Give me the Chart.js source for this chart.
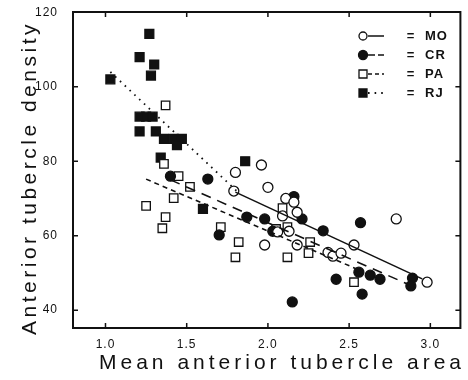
<!DOCTYPE html>
<html>
<head>
<meta charset="utf-8">
<script src="https://cdn.jsdelivr.net/npm/chart.js@4"></script>
<style>
  html, body { margin: 0; padding: 0; background: #fff; overflow: hidden; }
  #wrap { width: 468px; height: 380px; }
</style>
</head>
<body>
<div id="wrap"><canvas id="chart"></canvas></div>
<script>
const INK = "#111111";
const FONT = "'Liberation Sans', Arial, sans-serif";

const xTicks = [1.0, 1.5, 2.0, 2.5, 3.0];
const yTicks = [40, 60, 80, 100, 120];

const groupNames = ["MO", "CR", "PA", "RJ"];

// [mean anterior tubercle area, anterior tubercle density]
const moPoints = [
  [1.80, 77], [1.79, 72], [1.96, 79], [2.00, 73], [2.11, 70], [2.16, 69],
  [2.18, 66.3], [2.09, 65.3], [2.13, 61.2], [2.06, 61], [1.98, 57.5], [2.18, 57.5],
  [2.37, 55.5], [2.40, 54.5], [2.45, 55.3], [2.53, 57.5], [2.79, 64.5], [2.98, 47.5],
];
const crPoints = [
  [1.40, 76], [1.63, 75.2], [1.70, 60.2], [1.87, 65], [1.98, 64.5], [2.03, 61.2],
  [2.16, 70.5], [2.21, 64.5], [2.34, 61.3], [2.57, 63.5], [2.42, 48.3], [2.56, 50.2],
  [2.63, 49.4], [2.69, 48.3], [2.58, 44.3], [2.89, 48.6], [2.88, 46.5], [2.15, 42.2],
];
const paPoints = [
  [1.37, 95], [1.36, 79.3], [1.45, 76], [1.52, 73.1], [1.42, 70.1], [1.25, 68],
  [1.37, 65], [1.35, 62], [1.71, 62.3], [1.82, 58.3], [1.80, 54.2], [2.09, 67.4],
  [2.12, 62.3], [2.05, 61.8], [2.26, 58.3], [2.12, 54.2], [2.25, 55.3], [2.53, 47.5],
];
const rjPoints = [
  [1.03, 102], [1.27, 114.2], [1.21, 108], [1.30, 106], [1.28, 103], [1.21, 92],
  [1.25, 92], [1.29, 92], [1.21, 88], [1.31, 88], [1.36, 86], [1.42, 86],
  [1.47, 86], [1.44, 84.3], [1.34, 81], [1.60, 67.2], [1.86, 80],
];

// regression line end points
const moFit = [[1.80, 71.7], [2.95, 48.4]];
const crFit = [[1.40, 75], [2.86, 47]];
const paFit = [[1.25, 75.2], [2.55, 51]];
const rjFit = [[1.03, 104], [1.82, 71.5]];

const toXY = (pts) => pts.map(([x, y]) => ({ x, y }));

const styles = {
  MO: { shape: "circle", fill: "#ffffff", radius: 5, dash: [] },
  CR: { shape: "circle", fill: INK, radius: 5, dash: [10, 7] },
  PA: { shape: "rect", fill: "#ffffff", radius: 6, dash: [5, 4] },
  RJ: { shape: "rect", fill: INK, radius: 6.3, dash: [1.6, 5] },
};

function pointSet(name, pts) {
  const s = styles[name];
  return {
    label: name,
    data: toXY(pts),
    pointStyle: s.shape,
    pointRadius: s.radius,
    pointHoverRadius: s.radius,
    pointBackgroundColor: s.fill,
    pointBorderColor: INK,
    pointBorderWidth: 1.3,
    showLine: false,
  };
}

function fitSet(name, pts) {
  return {
    label: name + " fit",
    data: toXY(pts),
    showLine: true,
    borderColor: INK,
    borderWidth: name === "RJ" ? 1.8 : 1.6,
    borderDash: styles[name].dash,
    pointRadius: 0,
    fill: false,
  };
}

const framePlugin = {
  id: "frame",
  beforeDraw(chart) {
    chart.ctx.letterSpacing = "1px";
  },
  afterDraw(chart) {
    const { ctx, chartArea: a, scales } = chart;
    ctx.save();
    ctx.letterSpacing = "0px";
    ctx.strokeStyle = INK;
    ctx.lineWidth = 2;
    ctx.setLineDash([]);
    ctx.beginPath();
    ctx.moveTo(a.left, a.top);
    ctx.lineTo(a.right, a.top);
    ctx.lineTo(a.right, a.bottom);
    ctx.lineTo(a.left, a.bottom);
    ctx.closePath();
    ctx.stroke();
    const len = 5;
    ctx.lineWidth = 1.5;
    ctx.beginPath();
    xTicks.forEach((v) => {
      const px = scales.x.getPixelForValue(v);
      ctx.moveTo(px, a.bottom); ctx.lineTo(px, a.bottom - len);
      ctx.moveTo(px, a.top); ctx.lineTo(px, a.top + len);
    });
    yTicks.forEach((v) => {
      const py = scales.y.getPixelForValue(v);
      ctx.moveTo(a.left, py); ctx.lineTo(a.left + len, py);
      ctx.moveTo(a.right, py); ctx.lineTo(a.right - len, py);
    });
    ctx.stroke();

    // axis titles
    ctx.fillStyle = INK;
    ctx.font = "21px " + FONT;
    ctx.letterSpacing = "4px";
    ctx.textAlign = "center";
    ctx.textBaseline = "alphabetic";
    ctx.fillText(chart.options.scales.x.title.text, 282, 369);
    ctx.save();
    ctx.translate(36, 178);
    ctx.rotate(-Math.PI / 2);
    ctx.letterSpacing = "3.5px";
    ctx.fillText(chart.options.scales.y.title.text, 0, 0);
    ctx.restore();

    // legend
    const rows = [36, 55, 74, 93];
    groupNames.forEach((name, i) => {
      const s = styles[name];
      const y = rows[i];
      ctx.lineWidth = 1.3;
      ctx.setLineDash([]);
      ctx.fillStyle = s.fill;
      ctx.beginPath();
      if (s.shape === "circle") {
        ctx.arc(363, y, name === "CR" ? 4.5 : 4, 0, Math.PI * 2);
      } else {
        ctx.rect(359, y - 4, 8, 8);
      }
      ctx.fill();
      ctx.stroke();
      ctx.beginPath();
      ctx.lineWidth = name === "RJ" ? 1.8 : 1.5;
      ctx.setLineDash(name === "CR" ? [7, 3] : name === "PA" ? [4, 3] : s.dash);
      ctx.moveTo(368, y);
      ctx.lineTo(384, y);
      ctx.stroke();
      ctx.setLineDash([]);
      ctx.fillStyle = INK;
      ctx.letterSpacing = "1px";
      ctx.font = "bold 13px " + FONT;
      ctx.textAlign = "center";
      ctx.textBaseline = "middle";
      ctx.fillText("=", 411, y);
      ctx.textAlign = "left";
      ctx.fillText(name, 425, y);
    });
    ctx.restore();
  },
};

new Chart(document.getElementById("chart").getContext("2d"), {
  type: "scatter",
  data: {
    datasets: [
      fitSet("MO", moFit),
      fitSet("CR", crFit),
      fitSet("PA", paFit),
      fitSet("RJ", rjFit),
      pointSet("MO", moPoints),
      pointSet("CR", crPoints),
      pointSet("PA", paPoints),
      pointSet("RJ", rjPoints),
    ],
  },
  options: {
    responsive: true,
    maintainAspectRatio: false,
    animation: false,
    layout: { padding: { left: 0, right: 6, top: 12, bottom: 0 } },
    plugins: {
      legend: { display: false },
      tooltip: { enabled: false },
    },
    scales: {
      x: {
        type: "linear",
        min: 0.8,
        max: 3.185,
        afterBuildTicks(scale) { scale.ticks = xTicks.map((v) => ({ value: v })); },
        afterFit(scale) {
          scale.height = 52;
          scale.paddingLeft = 0;
          scale.paddingRight = 0;
        },
        title: { display: false, text: "Mean anterior tubercle area" },
        grid: { display: false, drawTicks: false },
        border: { display: false },
        ticks: {
          color: INK,
          padding: 9,
          font: { family: FONT, size: 12 },
          callback: (v) => Number(v).toFixed(1),
        },
      },
      y: {
        type: "linear",
        min: 35.2,
        max: 120.1,
        afterBuildTicks(scale) { scale.ticks = yTicks.map((v) => ({ value: v })); },
        afterFit(scale) {
          scale.width = 73;
          scale.paddingTop = 0;
          scale.paddingBottom = 0;
        },
        title: { display: false, text: "Anterior tubercle density" },
        grid: { display: false, drawTicks: false },
        border: { display: false },
        ticks: {
          color: INK,
          padding: 15,
          font: { family: FONT, size: 12 },
        },
      },
    },
  },
  plugins: [framePlugin],
});
</script>
</body>
</html>
